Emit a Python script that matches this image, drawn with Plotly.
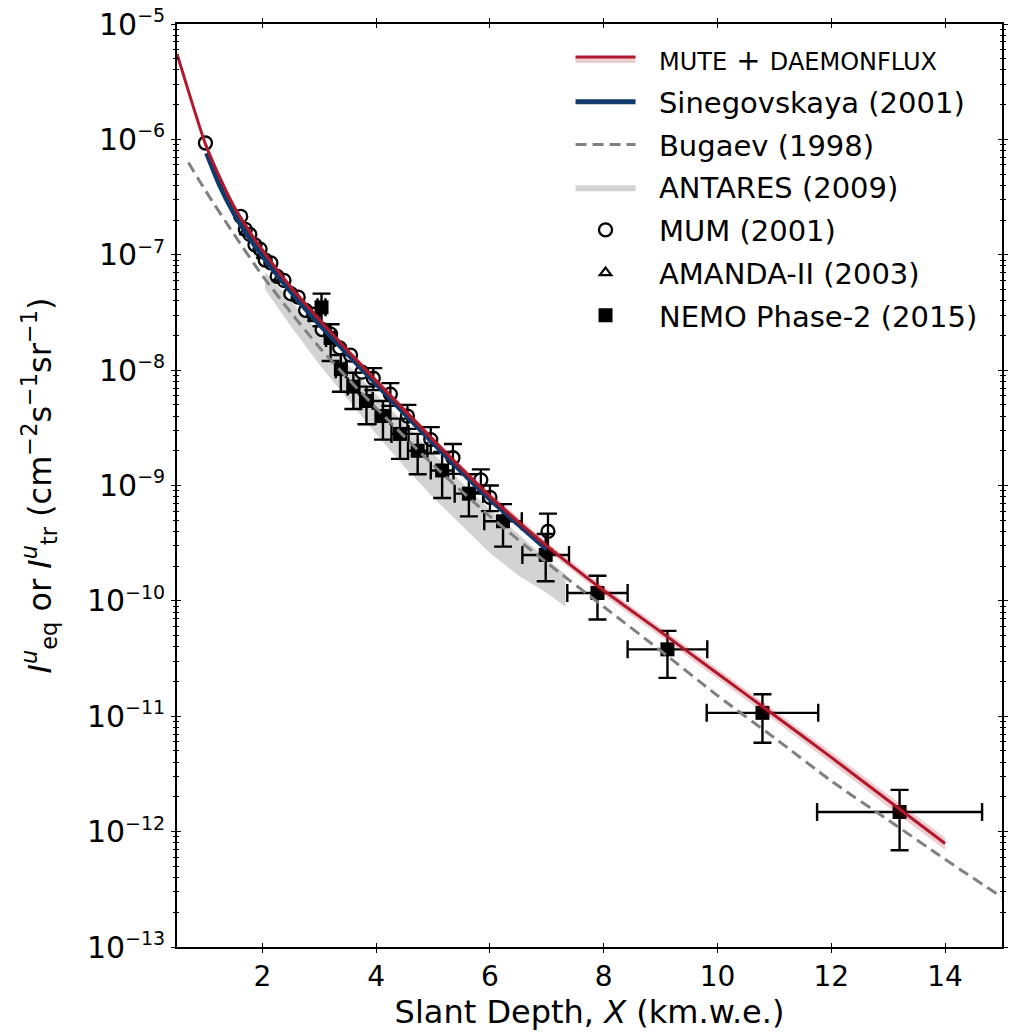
import plotly.graph_objects as go

# ---------------- data ----------------
# MUTE + DAEMONFLUX prediction
mute_x = [0.5, 0.75, 1.0, 1.25, 1.5, 1.75, 2.0, 2.5, 3.0, 3.5, 4.0, 4.5, 5.0, 5.5, 6.0,
          7.0, 8.0, 9.0, 10.0, 11.0, 12.0, 13.0, 14.0]
mute_y = [5.5e-6, 2.19e-6, 9.1e-7, 4.7e-7, 2.63e-7, 1.66e-7, 1.10e-7, 5.25e-8, 2.75e-8,
          1.48e-8, 8.1e-9, 4.5e-9, 2.5e-9, 1.41e-9, 8.1e-10, 3.0e-10, 1.23e-10, 5.4e-11,
          2.35e-11, 1.02e-11, 4.4e-12, 1.86e-12, 7.9e-13]
mute_rel_err = [0.06, 0.06, 0.06, 0.06, 0.06, 0.06, 0.06, 0.06, 0.06, 0.06, 0.07, 0.07,
                0.07, 0.07, 0.08, 0.08, 0.09, 0.09, 0.1, 0.1, 0.11, 0.12, 0.12]

# Sinegovskaya (2001)
sine_x = [1.02, 1.25, 1.5, 1.75, 2.0, 2.5, 3.0, 3.5, 4.0, 4.5, 5.0, 5.5, 6.0, 6.5, 7.0]
sine_y = [7.6e-7, 4.0e-7, 2.29e-7, 1.45e-7, 9.8e-8, 4.8e-8, 2.5e-8, 1.38e-8, 7.6e-9,
          4.2e-9, 2.35e-9, 1.32e-9, 7.6e-10, 4.6e-10, 2.8e-10]

# Bugaev (1998)
bug_x = [0.7, 1.0, 1.5, 2.0, 2.5, 3.0, 3.5, 4.0, 5.0, 6.0, 7.0, 8.0, 9.0, 10.0, 11.0,
         12.0, 13.0, 14.0, 15.0]
bug_y = [6.3e-7, 3.6e-7, 1.51e-7, 6.6e-8, 3.16e-8, 1.58e-8, 8.5e-9, 4.7e-9, 1.51e-9,
         5.4e-10, 2.14e-10, 8.9e-11, 3.7e-11, 1.51e-11, 6.5e-12, 2.75e-12, 1.26e-12,
         5.75e-13, 2.7e-13]

# ANTARES (2009) band
ant_x = [2.05, 2.5, 3.0, 3.5, 4.0, 4.5, 5.0, 5.5, 6.0, 6.5, 7.0, 7.33]
ant_hi = [7.1e-8, 4.0e-8, 2.1e-8, 1.12e-8, 6.2e-9, 3.4e-9, 1.9e-9, 1.07e-9, 6.2e-10,
          3.8e-10, 2.3e-10, 1.7e-10]
ant_lo = [5.0e-8, 2.4e-8, 1.12e-8, 5.6e-9, 2.8e-9, 1.45e-9, 7.9e-10, 4.5e-10, 2.6e-10,
          1.66e-10, 1.17e-10, 8.9e-11]

# MUM (2001): points whose error bars are hidden behind the marker
mum_x = [1.0, 1.62, 1.7, 1.78, 1.87, 1.96, 2.05, 2.15, 2.26, 2.38, 2.5, 2.63, 2.76, 2.9,
         3.05, 3.2, 3.36, 3.55, 3.75]
mum_y = [9.3e-7, 2.15e-7, 1.66e-7, 1.5e-7, 1.22e-7, 1.12e-7, 9.0e-8, 8.5e-8, 6.5e-8,
         6.0e-8, 4.6e-8, 4.3e-8, 3.3e-8, 3.05e-8, 2.25e-8, 2.05e-8, 1.56e-8, 1.35e-8,
         9.6e-9]
# MUM (2001): deeper points with visible error bars
mum_eb_x = [3.95, 4.25, 4.55, 4.96, 5.35, 5.84, 6.0, 7.02]
mum_eb_y = [8.5e-9, 6.2e-9, 4.0e-9, 2.5e-9, 1.74e-9, 1.12e-9, 7.9e-10, 4.0e-10]
mum_eb_up = [1.9e-9, 1.5e-9, 1.0e-9, 7.0e-10, 5.5e-10, 2.6e-10, 2.1e-10, 1.7e-10]
mum_eb_dn = [1.8e-9, 1.3e-9, 9.0e-10, 6.0e-10, 4.8e-10, 2.4e-10, 1.9e-10, 1.4e-10]

# AMANDA-II (2003)
ama_x = [1.7, 2.0, 2.3, 2.6, 2.9, 3.2]
ama_y = [1.58e-7, 9.8e-8, 6.3e-8, 4.2e-8, 2.8e-8, 2.0e-8]

# NEMO Phase-2 (2015)
nemo_x = [3.04, 3.2, 3.38, 3.6, 3.83, 4.12, 4.42, 4.73, 5.16, 5.63, 6.23, 6.98, 7.89,
          9.12, 10.79, 13.2]
nemo_xerr = [0.07, 0.08, 0.09, 0.1, 0.11, 0.13, 0.15, 0.17, 0.2, 0.25, 0.33, 0.41, 0.53,
             0.7, 0.98, 1.45]
nemo_y = [3.5e-8, 1.9e-8, 1.02e-8, 7.2e-9, 5.4e-9, 4.0e-9, 2.8e-9, 2.0e-9, 1.35e-9,
          8.5e-10, 4.9e-10, 2.5e-10, 1.17e-10, 3.8e-11, 1.07e-11, 1.48e-12]
nemo_hi = [4.6e-8, 2.5e-8, 1.35e-8, 9.5e-9, 7.2e-9, 5.4e-9, 3.8e-9, 2.8e-9, 1.95e-9,
           1.25e-9, 6.9e-10, 3.8e-10, 1.65e-10, 5.5e-11, 1.55e-11, 2.3e-12]
nemo_lo = [2.4e-8, 1.2e-8, 6.5e-9, 4.6e-9, 3.4e-9, 2.5e-9, 1.7e-9, 1.25e-9, 7.8e-10,
           5.4e-10, 2.95e-10, 1.48e-10, 6.9e-11, 2.15e-11, 5.9e-12, 6.9e-13]

x_range = [0.5, 15]
y_range_log = [-13, -5]
x_ticks = [2, 4, 6, 8, 10, 12, 14]
y_tickvals = [1e-13, 1e-12, 1e-11, 1e-10, 1e-9, 1e-8, 1e-7, 1e-6, 1e-5]
y_exponents = ["−13", "−12", "−11", "−10", "−9", "−8", "−7", "−6", "−5"]

RED = "#b2182b"
BLUE = "#113a6c"
GRAY = "#808080"
FONT = "DejaVu Sans, Arial, sans-serif"
PAD = "\u00a0\u00a0"

y_ticktext = ["10<sup><span style='font-size:19px'>%s</span></sup>" % e for e in y_exponents]

fig = go.Figure()

# ANTARES band (polygon)
fig.add_trace(go.Scatter(
    x=ant_x + ant_x[::-1], y=ant_hi + ant_lo[::-1],
    fill="toself", fillcolor="#d3d3d3", line=dict(width=0), mode="lines",
    name=PAD + "ANTARES (2009)", legendgroup="g4", legendrank=4, hoverinfo="skip"))

# NEMO Phase-2
fig.add_trace(go.Scatter(
    x=nemo_x, y=nemo_y, mode="markers",
    marker=dict(symbol="square", size=14, color="black"),
    error_y=dict(type="data", symmetric=False,
                 array=[h - v for h, v in zip(nemo_hi, nemo_y)],
                 arrayminus=[v - l for v, l in zip(nemo_y, nemo_lo)],
                 color="black", thickness=2.4, width=9),
    error_x=dict(type="data", array=nemo_xerr, color="black", thickness=2.4, width=9),
    name=PAD + "NEMO Phase-2 (2015)", legendgroup="g7", legendrank=7))

# MUM
fig.add_trace(go.Scatter(
    x=mum_x, y=mum_y, mode="markers",
    marker=dict(symbol="circle-open", size=13, color="black", line=dict(width=2.3)),
    name=PAD + "MUM (2001)", legendgroup="g5", legendrank=5))
fig.add_trace(go.Scatter(
    x=mum_eb_x, y=mum_eb_y, mode="markers",
    marker=dict(symbol="circle-open", size=13, color="black", line=dict(width=2.3)),
    error_y=dict(type="data", symmetric=False, array=mum_eb_up, arrayminus=mum_eb_dn,
                 color="black", thickness=2.3, width=9),
    showlegend=False, legendgroup="g5", name="MUM (2001)"))

# AMANDA-II
fig.add_trace(go.Scatter(
    x=ama_x, y=ama_y, mode="markers",
    marker=dict(symbol="triangle-up-open", size=10, color="black", line=dict(width=2.2)),
    name=PAD + "AMANDA-II (2003)", legendgroup="g6", legendrank=6))

# Bugaev
fig.add_trace(go.Scatter(
    x=bug_x, y=bug_y, mode="lines",
    line=dict(color=GRAY, width=3, dash="11px,6px", shape="spline", smoothing=0.6),
    name=PAD + "Bugaev (1998)", legendgroup="g3", legendrank=3))

# Sinegovskaya
fig.add_trace(go.Scatter(
    x=sine_x, y=sine_y, mode="lines",
    line=dict(color=BLUE, width=5, shape="spline", smoothing=0.6),
    name=PAD + "Sinegovskaya (2001)", legendgroup="g2", legendrank=2))

# MUTE band + line
mute_hi = [v * (1 + e) for v, e in zip(mute_y, mute_rel_err)]
mute_lo = [v * (1 - e) for v, e in zip(mute_y, mute_rel_err)]
fig.add_trace(go.Scatter(
    x=mute_x, y=mute_hi, mode="lines", line=dict(width=0, shape="spline", smoothing=0.6),
    showlegend=False, legendgroup="g1", hoverinfo="skip"))
fig.add_trace(go.Scatter(
    x=mute_x, y=mute_y, mode="lines", fill="tonexty", fillcolor="rgba(178,24,43,0.22)",
    line=dict(color=RED, width=3, shape="spline", smoothing=0.6),
    name=PAD + "<span style='font-size:24px'>MUTE</span> + "
               "<span style='font-size:24px'>DAEMONFLUX</span>",
    legendgroup="g1", legendrank=1))
fig.add_trace(go.Scatter(
    x=mute_x, y=mute_lo, mode="lines", fill="tonexty", fillcolor="rgba(178,24,43,0.22)",
    line=dict(width=0, shape="spline", smoothing=0.6),
    showlegend=False, legendgroup="g1", hoverinfo="skip"))

# empty trace that activates the overlay axes (inward half of in-out ticks)
fig.add_trace(go.Scatter(x=[], y=[], xaxis="x2", yaxis="y2", showlegend=False,
                         hoverinfo="skip"))

axis_common = dict(showgrid=False, zeroline=False, linecolor="black", linewidth=1.6,
                   tickcolor="black", tickwidth=1.4)

fig.update_layout(
    width=1012, height=1032,
    margin=dict(l=177, r=4, t=22, b=85),
    paper_bgcolor="white", plot_bgcolor="white",
    font=dict(family=FONT, size=28, color="black"),
    xaxis=dict(range=x_range, tickvals=x_ticks, ticks="outside", ticklen=4,
               mirror="allticks", showline=True,
               tickfont=dict(size=28),
               title=dict(text="Slant Depth, <i>X</i> (km.w.e.)", font=dict(size=32),
                          standoff=6),
               **axis_common),
    yaxis=dict(type="log", range=y_range_log, tickvals=y_tickvals, ticktext=y_ticktext,
               ticks="outside", ticklen=4, mirror="allticks", showline=True,
               minor=dict(ticks="outside", ticklen=2, dtick="D1", tickcolor="black",
                          tickwidth=1.0, showgrid=False),
               tickfont=dict(size=30),
               title=dict(text="<i>I</i><sup><i>u</i></sup><sub>eq</sub> or "
                               "<i>I</i><sup><i>u</i></sup><sub>tr</sub> "
                               "(cm<sup>−2</sup>s<sup>−1</sup>sr<sup>−1</sup>)",
                          font=dict(size=32), standoff=26),
               **axis_common),
    xaxis2=dict(range=x_range, tickvals=x_ticks, ticks="inside", ticklen=4,
                mirror="allticks", showline=False, showticklabels=False,
                overlaying="x", anchor="y2", **axis_common),
    yaxis2=dict(type="log", range=y_range_log, tickvals=y_tickvals, ticks="inside",
                ticklen=4, mirror="allticks", showline=False, showticklabels=False,
                minor=dict(ticks="inside", ticklen=2, dtick="D1", tickcolor="black",
                           tickwidth=1.0, showgrid=False),
                overlaying="y", anchor="x2", **axis_common),
    legend=dict(x=0.477, y=0.9895, xanchor="left", yanchor="top",
                bgcolor="rgba(255,255,255,0)", borderwidth=0,
                font=dict(size=29, family=FONT), itemwidth=60,
                tracegroupgap=2, traceorder="grouped"),
    showlegend=True,
)

fig.write_html("out.html")
